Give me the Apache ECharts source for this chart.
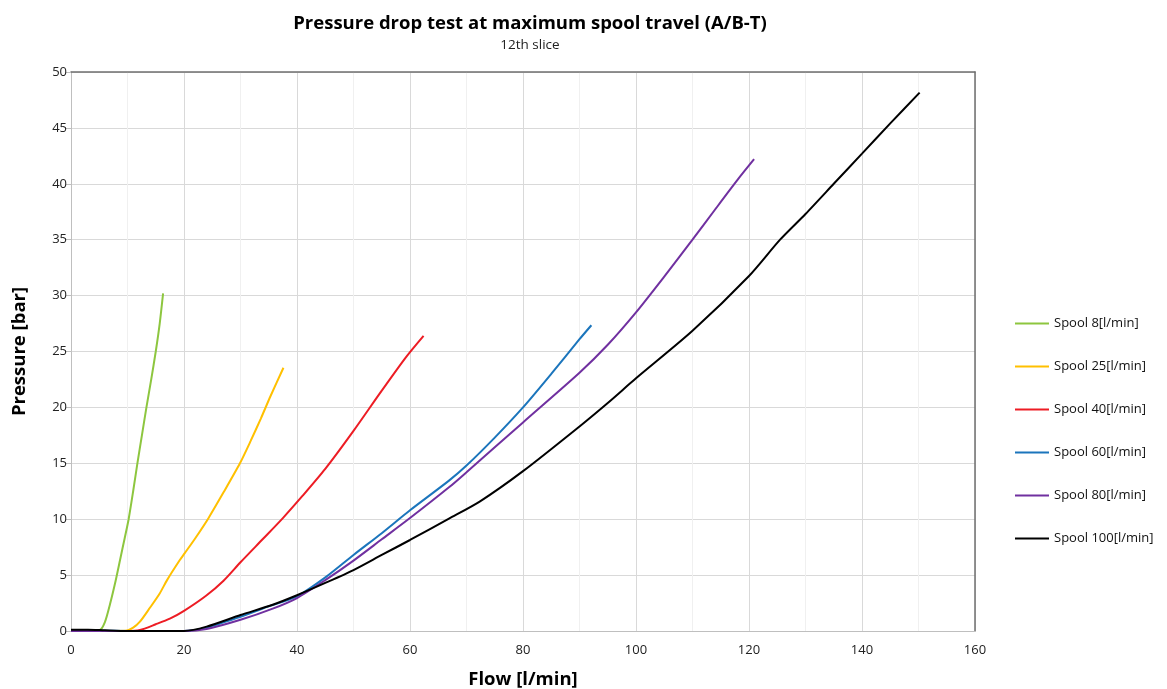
<!DOCTYPE html>
<html>
<head>
<meta charset="utf-8">
<script src="https://cdn.jsdelivr.net/npm/echarts@6/dist/echarts.min.js"></script>
<style>html,body{margin:0;padding:0;background:#fff;}#c{width:1167px;height:689px;}</style>
</head>
<body>
<div id="c"></div>
<script>
const seriesNames = ['Spool 8[l/min]', 'Spool 25[l/min]', 'Spool 40[l/min]', 'Spool 60[l/min]', 'Spool 80[l/min]', 'Spool 100[l/min]'];
const xTicks = [0, 20, 40, 60, 80, 100, 120, 140, 160];
const yTicks = [0, 5, 10, 15, 20, 25, 30, 35, 40, 45, 50];

const spool8 = [[0,0.05],[3,0.05],[5.1,0.1],[6,0.8],[6.9,2.4],[7.9,4.5],[8.7,6.4],[9.5,8.3],[10.2,10],[11.0,12.5],[11.75,15],[12.55,17.5],[13.35,20],[14.2,22.5],[15.0,25],[15.7,27.5],[16.3,30.2]];
const spool25 = [[0,0],[5,0],[9.6,0.02],[11,0.3],[12.2,0.83],[14,2.1],[15.7,3.36],[17,4.55],[19.2,6.3],[20.1,6.94],[22,8.3],[24.3,10.07],[27,12.4],[29.9,15],[31.8,17],[33.6,19],[35.3,21],[37.6,23.55]];
const spool40 = [[0,0],[10,0],[12.2,0.09],[15,0.6],[17.5,1.1],[20,1.8],[23.9,3.15],[27,4.5],[30,6.15],[34,8.25],[37.5,10.1],[41,12.1],[45,14.5],[50,17.9],[55,21.5],[59.3,24.5],[62.4,26.4]];
const spool60 = [[0,0.05],[5,0.03],[10,0],[20,0],[24,0.3],[30,1.28],[35,2.2],[40,3.1],[45.2,4.86],[50,6.8],[55,8.75],[60,10.8],[66.9,13.45],[70,14.8],[75,17.3],[80,20],[85,23],[90,26.1],[92.1,27.35]];
const spool80 = [[0,0],[10,0],[20,0],[24,0.18],[30,1.0],[35.7,2.0],[40,2.95],[45,4.55],[50,6.3],[55,8.2],[60,10.1],[66.9,12.85],[70,14.2],[80,18.66],[90,23.1],[95,25.6],[100,28.5],[105,31.7],[110,35],[114,37.7],[118.2,40.5],[120.9,42.2]];
const spool100 = [[0,0.12],[3,0.12],[6,0.06],[10,0],[20,0],[24,0.39],[30,1.43],[35.7,2.35],[40,3.2],[45,4.3],[50,5.45],[55,6.8],[60,8.14],[66.9,10.05],[72.4,11.6],[80,14.3],[90,18.3],[95,20.4],[100,22.6],[110,26.85],[120,31.75],[125.5,35],[130,37.3],[135,40],[140,42.7],[145,45.4],[150.2,48.15]];

const seriesData = [spool8, spool25, spool40, spool60, spool80, spool100];
const colors = ['#8DC63F', '#FFC000', '#ED1C24', '#1B75BC', '#7030A0', '#000000'];

const font = '"Open Sans", "Noto Sans", sans-serif';
const chart = echarts.init(document.getElementById('c'));
chart.setOption({
  animation: false,
  backgroundColor: '#ffffff',
  textStyle: { fontFamily: font },
  title: {
    text: 'Pressure drop test at maximum spool travel (A/B-T)',
    subtext: '12th slice',
    left: 525, top: 9, textAlign: 'center', itemGap: 5,
    textStyle: { fontFamily: font, fontWeight: 'bold', fontSize: 18.5, color: '#000' },
    subtextStyle: { fontFamily: font, fontSize: 13.5, color: '#222' }
  },
  legend: {
    orient: 'vertical', left: 1010, top: 309,
    icon: 'rect', itemWidth: 34, itemHeight: 2, itemGap: 24,
    data: seriesNames,
    textStyle: { fontFamily: font, fontSize: 13, color: '#111', lineHeight: 19 }
  },
  grid: { left: 71, right: 192, top: 72, bottom: 58, containLabel: false, outerBoundsMode: 'none' },
  xAxis: [{
    type: 'value', min: xTicks[0], max: xTicks[xTicks.length - 1], interval: 20,
    name: 'Flow [l/min]', nameLocation: 'middle', nameGap: 39,
    nameTextStyle: { fontFamily: font, fontWeight: 'bold', fontSize: 18.5, color: '#000' },
    axisLine: { show: true, lineStyle: { color: '#bfbfbf', width: 1 } },
    axisTick: { show: false },
    axisLabel: { fontFamily: font, fontSize: 13, color: '#222', margin: 13 },
    splitLine: { show: true, lineStyle: { color: '#d9d9d9', width: 1 } },
    minorTick: { show: false, splitNumber: 2 },
    minorSplitLine: { show: true, lineStyle: { color: '#f0f0f0', width: 1 } }
  }, {
    type: 'value', position: 'top', min: 0, max: 160, interval: 20,
    axisLine: { show: true, onZero: false, lineStyle: { color: '#6f6f6f', width: 1.5 } },
    axisTick: { show: false }, axisLabel: { show: false }, splitLine: { show: false }
  }],
  yAxis: [{
    type: 'value', min: yTicks[0], max: yTicks[yTicks.length - 1], interval: 5,
    name: 'Pressure [bar]', nameLocation: 'middle', nameGap: 42,
    nameTextStyle: { fontFamily: font, fontWeight: 'bold', fontSize: 18.5, color: '#000' },
    axisLine: { show: true, lineStyle: { color: '#bfbfbf', width: 1 } },
    axisTick: { show: true, length: 5, lineStyle: { color: '#bfbfbf' } },
    axisLabel: { fontFamily: font, fontSize: 13, color: '#222', margin: 4 },
    splitLine: { show: true, lineStyle: { color: '#d9d9d9', width: 1 } }
  }, {
    type: 'value', position: 'right', min: 0, max: 50, interval: 5,
    axisLine: { show: true, onZero: false, lineStyle: { color: '#6f6f6f', width: 1.5 } },
    axisTick: { show: false }, axisLabel: { show: false }, splitLine: { show: false }
  }],
  series: seriesNames.map((n, i) => ({
    name: n, type: 'line', data: seriesData[i],
    xAxisIndex: 0, yAxisIndex: 0,
    smooth: 0.25,
    symbol: 'none', showSymbol: false,
    color: colors[i],
    lineStyle: { color: colors[i], width: 2 },
    itemStyle: { color: colors[i] },
    emphasis: { disabled: true }
  }))
});
</script>
</body>
</html>
